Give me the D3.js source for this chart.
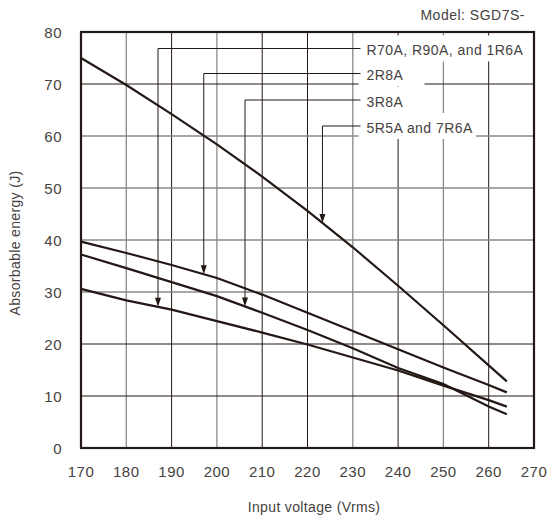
<!DOCTYPE html>
<html>
<head>
<meta charset="utf-8">
<script src="https://cdn.jsdelivr.net/npm/d3@7"></script>
<style>
  body { margin: 0; background: #fff; }
  text { font-family: 'Liberation Sans', Arial, sans-serif; fill: #464241; }
</style>
</head>
<body>
<div class="chart"></div>
<script>
const svgWidth = 552;
const svgHeight = 516;

// input voltage (Vrms) sample points
const voltage = [170, 180, 190, 200, 210, 220, 230, 240, 250, 260, 264];

// absorbable energy (J) per model group
const energy5R5A = [75.0, 69.8, 64.2, 58.4, 52.2, 45.6, 38.6, 31.2, 23.6, 15.9, 12.8];
const energy2R8A = [39.7, 37.5, 35.2, 32.7, 29.5, 26.0, 22.5, 19.0, 15.5, 12.1, 10.7];
const energy3R8A = [37.2, 34.6, 31.9, 29.2, 26.0, 22.7, 19.2, 15.4, 12.3, 8.0, 6.5];
const energyR70A = [30.6, 28.4, 26.6, 24.4, 22.2, 19.9, 17.4, 14.9, 12.0, 9.2, 7.95];

const xTicks = [170, 180, 190, 200, 210, 220, 230, 240, 250, 260, 270];
const yTicks = [0, 10, 20, 30, 40, 50, 60, 70, 80];

// label text, series it points to, voltage where the arrow lands
const labelNames = ['R70A, R90A, and 1R6A', '2R8A', '3R8A', '5R5A and 7R6A'];
const labelSeries = [energyR70A, energy2R8A, energy3R8A, energy5R5A];
const labelVoltage = [187.0, 197.1, 206.2, 223.3];

// gridlines drawn in gray rather than near-black
const grayX = [180, 200, 230, 250];
const grayY = [30, 40, 50, 60];

const margin = { top: 32, right: 18, bottom: 68, left: 81 };
const width = svgWidth - margin.left - margin.right;
const height = svgHeight - margin.top - margin.bottom;

const dark = '#231815';
const gray = '#8c8a89';

const svg = d3.select('.chart')
  .append('svg')
  .attr('width', svgWidth)
  .attr('height', svgHeight);

const g = svg.append('g')
  .attr('transform', `translate(${margin.left}, ${margin.top})`);

const x = d3.scaleLinear().domain([170, 270]).range([0, width]);
const y = d3.scaleLinear().domain([0, 80]).range([height, 0]);

// gridlines
g.append('g')
  .selectAll('line')
  .data(xTicks.slice(1, -1))
  .enter()
  .append('line')
  .attr('x1', d => x(d)).attr('x2', d => x(d))
  .attr('y1', 0).attr('y2', height)
  .attr('stroke', d => grayX.includes(d) ? gray : dark)
  .attr('stroke-width', d => grayX.includes(d) ? 1.3 : 1);

g.append('g')
  .selectAll('line')
  .data(yTicks.slice(1, -1))
  .enter()
  .append('line')
  .attr('x1', 0).attr('x2', width)
  .attr('y1', d => y(d)).attr('y2', d => y(d))
  .attr('stroke', d => grayY.includes(d) ? gray : dark)
  .attr('stroke-width', d => grayY.includes(d) ? 1.3 : 1);

// label rows (absolute y of the leader line)
const rowY = [48.5, 73.5, 100, 126];
const textX = 366.5;
const boxMinW = [0, 66, 66, 0];

const ann = svg.append('g');
labelNames.forEach((name, i) => {
  const t = ann.append('text')
    .attr('x', textX)
    .attr('y', rowY[i] + 6.5)
    .attr('font-size', 14)
    .attr('letter-spacing', 0.45)
    .text(name);
  const bb = t.node().getBBox();
  let right = Math.max(bb.x + bb.width + 3, textX - 8 + boxMinW[i]);
  if (i === 0) right = margin.left + width - 2;
  ann.insert('rect', 'text')
    .attr('x', textX - 8)
    .attr('y', rowY[i] - 13)
    .attr('width', right - (textX - 8))
    .attr('height', 26)
    .attr('fill', '#fff');

  // arrow down to the curve
  const v = labelVoltage[i];
  const ax = margin.left + x(v);
  const interp = d3.scaleLinear().domain(voltage).range(labelSeries[i]);
  const tipY = margin.top + y(interp(v));
  ann.append('path')
    .attr('d', `M${textX - 6},${rowY[i]}H${ax}V${tipY - 8}`)
    .attr('fill', 'none')
    .attr('stroke', dark)
    .attr('stroke-width', 1);
  ann.append('path')
    .attr('d', `M${ax - 3},${tipY - 9}L${ax + 3},${tipY - 9}L${ax},${tipY}Z`)
    .attr('fill', dark);
});

// curves
const line = d3.line()
  .x((d, i) => x(voltage[i]))
  .y(d => y(d));

g.append('g')
  .selectAll('path')
  .data([energy5R5A, energy2R8A, energy3R8A, energyR70A])
  .enter()
  .append('path')
  .attr('d', line)
  .attr('fill', 'none')
  .attr('stroke', dark)
  .attr('stroke-width', 2.2);

// frame
g.append('rect')
  .attr('width', width)
  .attr('height', height)
  .attr('fill', 'none')
  .attr('stroke', dark)
  .attr('stroke-width', 2.2);

// tick labels
g.append('g')
  .selectAll('text')
  .data(xTicks)
  .enter()
  .append('text')
  .attr('x', d => x(d))
  .attr('y', height + 29)
  .attr('text-anchor', 'middle')
  .attr('font-size', 15)
  .attr('letter-spacing', 0.5)
  .text(d => d);

g.append('g')
  .selectAll('text')
  .data(yTicks)
  .enter()
  .append('text')
  .attr('x', -19)
  .attr('y', d => y(d) + 5.5)
  .attr('text-anchor', 'end')
  .attr('font-size', 15)
  .attr('letter-spacing', 0.5)
  .text(d => d);

// axis titles
svg.append('text')
  .attr('x', 314)
  .attr('y', 512)
  .attr('text-anchor', 'middle')
  .attr('font-size', 14)
  .attr('letter-spacing', 0.35)
  .text('Input voltage (Vrms)');

svg.append('text')
  .attr('transform', 'rotate(-90)')
  .attr('x', -243)
  .attr('y', 20)
  .attr('text-anchor', 'middle')
  .attr('font-size', 14)
  .attr('letter-spacing', 0.35)
  .text('Absorbable energy (J)');

svg.append('text')
  .attr('x', 525)
  .attr('y', 20)
  .attr('text-anchor', 'end')
  .attr('font-size', 14)
  .attr('letter-spacing', 0.5)
  .text('Model: SGD7S-');
</script>
</body>
</html>
